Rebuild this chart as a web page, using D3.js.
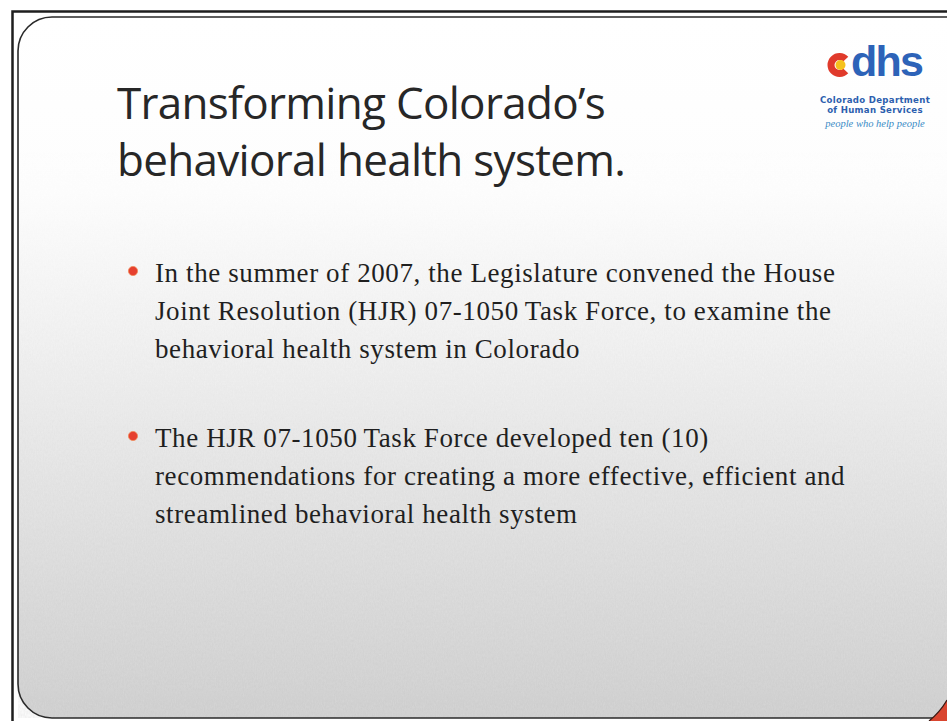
<!DOCTYPE html>
<html>
<head>
<meta charset="utf-8">
<script src="https://cdn.jsdelivr.net/npm/d3@7"></script>
<style>
  html, body { margin: 0; padding: 0; background: #fff; }
  svg { display: block; }
</style>
</head>
<body>
<div id="slide"></div>
<script>
// slide content
const titleLines = ["Transforming Colorado\u2019s", "behavioral health system."];
const bulletOne = ["In the summer of 2007, the Legislature convened the House",
                   "Joint Resolution (HJR) 07-1050\u2009Task Force, to examine the",
                   "behavioral health system in Colorado"];
const bulletTwo = ["The HJR 07-1050\u2009Task Force developed ten (10)",
                   "recommendations for creating a more effective, efficient and",
                   "streamlined behavioral health system"];
const bullets = [bulletOne, bulletTwo];
const logoMark = "dhs";
const logoLines = ["Colorado Department", "of Human Services"];
const logoTagline = "people who help people";

const width = 947;
const height = 721;

const svg = d3.select("#slide").append("svg")
    .attr("width", width)
    .attr("height", height);

const defs = svg.append("defs");

const grad = defs.append("linearGradient")
    .attr("id", "bg")
    .attr("x1", 0).attr("y1", 0).attr("x2", 0).attr("y2", 1);
grad.selectAll("stop")
    .data([[0, "#ffffff"], [0.25, "#fdfdfd"], [0.48, "#f2f2f2"], [0.72, "#e4e4e4"], [1, "#d4d4d4"]])
    .enter().append("stop")
    .attr("offset", function(d) { return d[0]; })
    .attr("stop-color", function(d) { return d[1]; });

// grain
const noise = defs.append("filter").attr("id", "grain")
    .attr("x", 0).attr("y", 0).attr("width", "100%").attr("height", "100%");
noise.append("feTurbulence")
    .attr("type", "fractalNoise")
    .attr("baseFrequency", "0.9 0.35")
    .attr("numOctaves", 2)
    .attr("seed", 4);
noise.append("feColorMatrix")
    .attr("type", "matrix")
    .attr("values", "0 0 0 0 0.45  0 0 0 0 0.45  0 0 0 0 0.45  0 0 0 0.25 0");

const grainMask = defs.append("linearGradient")
    .attr("id", "grainFade")
    .attr("x1", 0).attr("y1", 0).attr("x2", 0).attr("y2", 1);
grainMask.append("stop").attr("offset", 0.2).attr("stop-color", "#000");
grainMask.append("stop").attr("offset", 1).attr("stop-color", "#fff");
defs.append("mask").attr("id", "fade")
    .append("rect")
    .attr("width", width).attr("height", height)
    .attr("fill", "url(#grainFade)");

// outer scan frame
svg.append("path")
    .attr("d", "M12.5," + (height + 5) + " L12.5,11.5 L" + (width + 5) + ",11.5")
    .attr("fill", "none")
    .attr("stroke", "#1e1e1e")
    .attr("stroke-width", 2.5);

// slide body
const body = { x: 18, y: 17, w: width + 40, h: 701, r: 34 };

svg.append("rect")
    .attr("x", body.x).attr("y", body.y)
    .attr("width", body.w).attr("height", body.h)
    .attr("rx", body.r)
    .attr("fill", "url(#bg)");

svg.append("rect")
    .attr("x", body.x).attr("y", body.y)
    .attr("width", body.w).attr("height", body.h)
    .attr("rx", body.r)
    .attr("fill", "#000")
    .attr("filter", "url(#grain)")
    .attr("mask", "url(#fade)");

svg.append("rect")
    .attr("x", body.x).attr("y", body.y)
    .attr("width", body.w).attr("height", body.h)
    .attr("rx", body.r)
    .attr("fill", "none")
    .attr("stroke", "#2a2a2a")
    .attr("stroke-width", 1.6);

// red swoosh peeking at the bottom right corner
svg.append("path")
    .attr("d", "M929,721 Q940,712 947,700 L947,721 Z")
    .attr("fill", "#d9452f");
svg.append("path")
    .attr("d", "M929,721 Q940,712 947,700")
    .attr("fill", "none")
    .attr("stroke", "#3a1a14")
    .attr("stroke-width", 1.2);

// title
const titleY = d3.scalePoint()
    .domain(d3.range(titleLines.length))
    .range([119, 176]);

svg.append("g")
    .attr("font-family", "'Open Sans', 'Liberation Sans', sans-serif")
    .attr("font-size", 44)
    .attr("fill", "#272727")
    .selectAll("text")
    .data(titleLines)
    .enter().append("text")
    .attr("x", 117)
    .attr("y", function(d, i) { return titleY(i); })
    .attr("letter-spacing", -0.7)
    .text(function(d) { return d; });

// bullets
const lineStep = 38;
const paraTop = d3.scalePoint()
    .domain(d3.range(bullets.length))
    .range([282, 447]);

const para = svg.append("g")
    .attr("font-family", "'Liberation Serif', 'DejaVu Serif', serif")
    .attr("font-size", 27)
    .attr("letter-spacing", 0.6)
    .attr("fill", "#1f1f1f")
    .selectAll("g")
    .data(bullets)
    .enter().append("g")
    .attr("transform", function(d, i) { return "translate(0," + paraTop(i) + ")"; });

para.append("circle")
    .attr("cx", 133)
    .attr("cy", -11)
    .attr("r", 4.6)
    .attr("fill", "#e6402f")
    .attr("stroke", "#f08a5a")
    .attr("stroke-width", 0.8);

para.selectAll("text")
    .data(function(d) { return d; })
    .enter().append("text")
    .attr("x", 155)
    .attr("y", function(d, i) { return i * lineStep; })
    .text(function(d) { return d; });

// logo
const logo = svg.append("g");

const cArc = d3.arc()
    .innerRadius(5)
    .outerRadius(12)
    .startAngle(Math.PI / 2 + 0.75)
    .endAngle(Math.PI / 2 + 2 * Math.PI - 0.75);

logo.append("path")
    .attr("transform", "translate(839.5,65)")
    .attr("d", cArc())
    .attr("fill", "#e03a2b");
logo.append("circle")
    .attr("cx", 840.5).attr("cy", 65)
    .attr("r", 5)
    .attr("fill", "#f6c21c");

logo.append("text")
    .attr("x", 851)
    .attr("y", 76)
    .attr("font-family", "'Liberation Sans', Arial, sans-serif")
    .attr("font-weight", "bold")
    .attr("font-size", 43)
    .attr("letter-spacing", -1.8)
    .attr("fill", "#2d63b8")
    .text(logoMark);

logo.selectAll("text.sub")
    .data(logoLines)
    .enter().append("text")
    .attr("class", "sub")
    .attr("x", 875)
    .attr("y", function(d, i) { return 103 + i * 10; })
    .attr("text-anchor", "middle")
    .attr("font-family", "'DejaVu Sans', sans-serif")
    .attr("font-weight", "bold")
    .attr("font-size", 8.6)
    .attr("letter-spacing", 0.3)
    .attr("fill", "#2d5fae")
    .text(function(d) { return d; });

logo.append("text")
    .attr("x", 875)
    .attr("y", 127)
    .attr("text-anchor", "middle")
    .attr("font-family", "'Liberation Serif', serif")
    .attr("font-style", "italic")
    .attr("font-size", 10.5)
    .attr("fill", "#3a8cc6")
    .text(logoTagline);
</script>
</body>
</html>
